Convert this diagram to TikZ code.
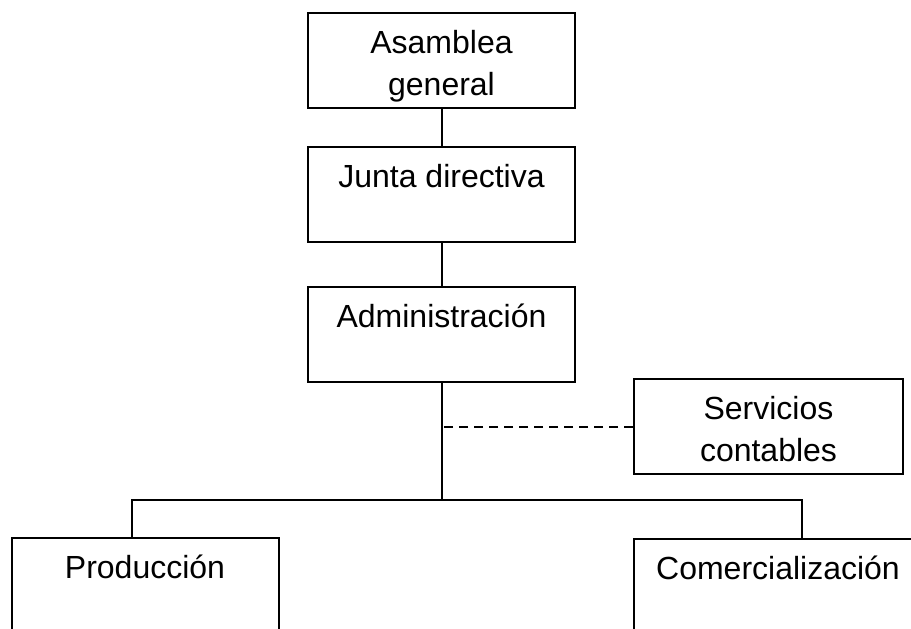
\documentclass[tikz,border=0pt]{standalone}
\usepackage{fontspec}
\setmainfont{Liberation Sans}
\usetikzlibrary{positioning}
\tikzset{org-line/.style={line width=1pt}}
\tikzset{org-dash/.style={org-line, dash pattern=on 4.5pt off 3pt}}
\tikzset{org-box/.style={
        draw,
        line width=1pt,
        inner sep=0,
        minimum width=133.5pt,
        align=center,
        font=\fontsize{16}{21}\selectfont,
        text height=41pt,
        text depth=6.5pt
    }
}
\tikzset{wide-box/.style={org-box, minimum width=144pt}}

\begin{document}
\begin{tikzpicture}[x=0.5pt, y=-0.5pt]
    \useasboundingbox (0,0) rectangle (911,628);
    \clip (0,0) rectangle (911,628);

    \node[org-box] (asamblea) at (441.5,60.5) {Asamblea\\general};
    \node[org-box, below=18.5pt of asamblea] (junta) {Junta directiva\\ };
    \node[org-box, below=21.5pt of junta] (admin) {Administración\\ };
    \node[org-box, minimum width=134.5pt] (servicios) at (768.5,426.5) {Servicios\\contables};
    \node[org-box] (produccion) at (145,585.5) {Producción\\ };
    \node[wide-box] (comercial) at (778,586.5) {Comercialización\\ };

    \coordinate (hub) at (441.5,500);
    \coordinate (prodjoin) at (132,500);
    \coordinate (comjoin) at (802,500);

    \draw[org-line] (asamblea) -- (junta);
    \draw[org-line] (junta) -- (admin);
    \draw[org-line] (admin.south) -- (hub);
    \draw[org-line] (produccion.north -| prodjoin) |- (hub) -| (comercial.north -| comjoin);
    \draw[org-dash] (servicios.west) -- (servicios.west -| hub);
\end{tikzpicture}
\end{document}
